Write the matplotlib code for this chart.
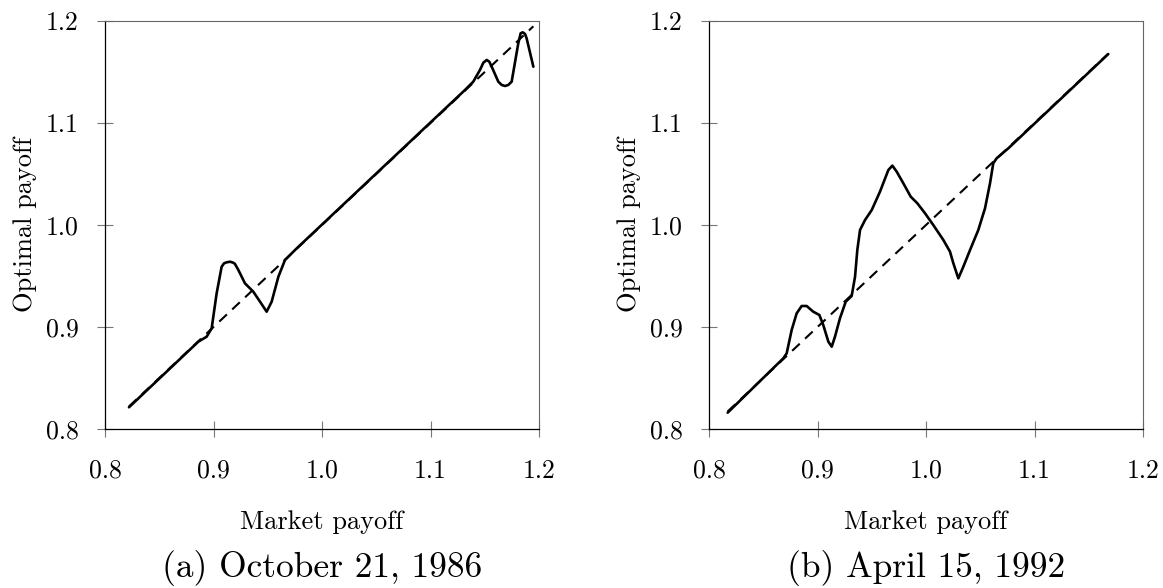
import matplotlib
matplotlib.use("Agg")
import matplotlib.pyplot as plt
import numpy as np

plt.rcParams['font.family'] = 'serif'
plt.rcParams['font.serif'] = ['cmr10']
plt.rcParams['axes.formatter.use_mathtext'] = True
plt.rcParams['mathtext.fontset'] = 'cm'

# Panel (a): October 21, 1986
a_x = [0.8221, 0.886, 0.8937, 0.8983, 0.9029, 0.9075, 0.9097, 0.9121, 0.9152, 0.9183,
       0.9198, 0.9229, 0.929, 0.9367, 0.9429, 0.949, 0.9536, 0.9598, 0.9659, 0.9767,
       1.1318, 1.1394, 1.1456, 1.1487, 1.1518, 1.1542, 1.1564, 1.1625, 1.1656, 1.1687,
       1.1717, 1.1748, 1.1809, 1.1831, 1.185, 1.1871, 1.1886, 1.1948]
a_y = [0.8213, 0.8856, 0.8905, 0.8987, 0.933, 0.9591, 0.9624, 0.9634, 0.964, 0.963,
       0.9618, 0.9559, 0.9428, 0.9346, 0.9248, 0.915, 0.9248, 0.9493, 0.9657, 0.9771,
       1.1324, 1.1405, 1.152, 1.1591, 1.1618, 1.1601, 1.1552, 1.1405, 1.1373, 1.1363,
       1.1373, 1.1405, 1.1781, 1.188, 1.1889, 1.1873, 1.183, 1.1552]
a_ref = [0.8221, 1.1948]

# Panel (b): April 15, 1992
b_x = [0.8172, 0.8685, 0.8716, 0.8762, 0.8808, 0.8854, 0.89, 0.8961, 0.9017, 0.9053,
       0.91, 0.9131, 0.9161, 0.9207, 0.926, 0.9315, 0.9346, 0.9367, 0.9392, 0.9438,
       0.95, 0.9576, 0.9653, 0.969, 0.973, 0.9791, 0.9859, 0.992, 0.9991, 1.0067,
       1.016, 1.0221, 1.0252, 1.0298, 1.0344, 1.0406, 1.0482, 1.0544, 1.059, 1.062,
       1.0651, 1.0759, 1.168]
b_y = [0.816, 0.8693, 0.8742, 0.8971, 0.9134, 0.9206, 0.9206, 0.915, 0.9118, 0.902,
       0.8856, 0.8807, 0.8905, 0.9085, 0.9248, 0.9304, 0.9493, 0.9755, 0.9951, 1.0049,
       1.0147, 1.0327, 1.0539, 1.0582, 1.0523, 1.0409, 1.0278, 1.0213, 1.0115, 1.0,
       0.9853, 0.9739, 0.9625, 0.9477, 0.9591, 0.9755, 0.9951, 1.0164, 1.0409, 1.0605,
       1.0654, 1.0752, 1.1676]
b_ref = [0.8172, 1.168]

ticks = [0.8, 0.9, 1.0, 1.1, 1.2]
tick_labels = ["0.8", "0.9", "1.0", "1.1", "1.2"]
captions = ["(a) October 21, 1986", "(b) April 15, 1992"]

fig = plt.figure(figsize=(11.63, 5.88), dpi=100)
W, H = 1163, 588
positions = [(105, 21, 434, 408), (709, 21, 434, 408)]
panels = [(a_x, a_y, a_ref), (b_x, b_y, b_ref)]

for (l, t, w, h), (xs, ys, ref), cap in zip(positions, panels, captions):
    ax = fig.add_axes([l / W, 1 - (t + h) / H, w / W, h / H])
    ax.plot(ref, ref, color='black', lw=1.5, ls=(0, (5, 3.5)))
    ax.plot(xs, ys, color='black', lw=1.9, solid_joinstyle='round',
            solid_capstyle='round')
    ax.set_xlim(0.8, 1.2)
    ax.set_ylim(0.8, 1.2)
    ax.set_xticks(ticks)
    ax.set_xticklabels(tick_labels)
    ax.set_yticks(ticks)
    ax.set_yticklabels(tick_labels)
    ax.tick_params(direction='inout', length=11.5, width=0.8, color='#777777',
                   labelsize=18.5)
    ax.tick_params(axis='x', pad=16)
    ax.tick_params(axis='y', pad=13)
    for side in ['top', 'right']:
        ax.spines[side].set_color('#666666')
        ax.spines[side].set_linewidth(0.8)
    for side in ['left', 'bottom']:
        ax.spines[side].set_color('black')
        ax.spines[side].set_linewidth(0.9)
    ax.set_xlabel("Market payoff", fontsize=19, va='center')
    ax.xaxis.set_label_coords(0.5, -(522 - (t + h)) / h)
    ax.set_ylabel("Optimal payoff", fontsize=19, va='center')
    ax.yaxis.set_label_coords(-80 / w, 0.5)
    fig.text((l + w / 2) / W, 1 - 568 / H, cap, ha='center', va='center', fontsize=25.5)

fig.savefig("out.png", dpi=100)
